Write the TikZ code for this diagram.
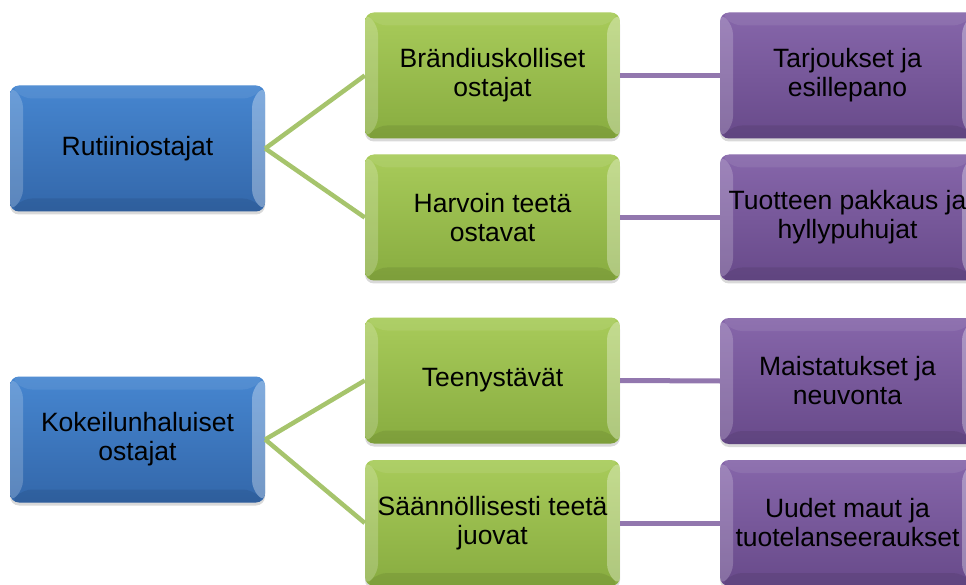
\documentclass[tikz,border=0pt]{standalone}
\usepackage{fontspec}
\setmainfont{Liberation Sans}
\usetikzlibrary{shadows}
\definecolor{bluetop}{HTML}{4686D0}
\definecolor{bluebot}{HTML}{3367AA}
\definecolor{greentop}{HTML}{A8CB5A}
\definecolor{greenbot}{HTML}{88AC40}
\definecolor{purptop}{HTML}{8666AA}
\definecolor{purpbot}{HTML}{684A8A}
\definecolor{greenline}{HTML}{A6C46C}
\definecolor{purpline}{HTML}{9277AE}
\tikzset{
  bev/.style={path picture={
    \path (path picture bounding box.south west) coordinate (bsw)
          (path picture bounding box.north east) coordinate (bne)
          (path picture bounding box.north west) coordinate (bnw)
          (path picture bounding box.south east) coordinate (bse);
    \fill[white,opacity=0.20] (bsw) -- (bnw) -- ([shift={(13pt,-13pt)}]bnw) -- ([shift={(13pt,13pt)}]bsw) -- cycle;
    \fill[white,opacity=0.08] (bnw) -- (bne) -- ([shift={(-13pt,-13pt)}]bne) -- ([shift={(13pt,-13pt)}]bnw) -- cycle;
    \fill[white,opacity=0.32] (bne) -- (bse) -- ([shift={(-13pt,13pt)}]bse) -- ([shift={(-13pt,-13pt)}]bne) -- cycle;
    \fill[black,opacity=0.08] (bse) -- (bsw) -- ([shift={(13pt,13pt)}]bsw) -- ([shift={(-13pt,13pt)}]bse) -- cycle;
  }},
  boxbase/.style={rounded corners=9pt, minimum width=255pt, minimum height=126pt,
    inner sep=0pt, align=center, text=black,
    font=\fontsize{26.5}{29}\selectfont,
    drop shadow={opacity=0.3, shadow xshift=0pt, shadow yshift=-3pt}, bev},
  bluebox/.style={boxbase, top color=bluetop, bottom color=bluebot},
  greenbox/.style={boxbase, top color=greentop, bottom color=greenbot},
  purplebox/.style={boxbase, top color=purptop, bottom color=purpbot},
  gline/.style={draw=greenline, line width=4.5pt},
  pline/.style={draw=purpline, line width=5pt},
}
\begin{document}
\begin{tikzpicture}[x=1pt,y=-1pt]
\useasboundingbox (0,0) rectangle (966,585);
\node[bluebox] (b1) at (137.5,148.5) {Rutiiniostajat};
\node[bluebox] (b2) at (137.5,439.5) {Kokeilunhaluiset\\ostajat};
\node[greenbox] (g1) at (492.5,75.5) {Brändiuskolliset\\ostajat};
\node[greenbox] (g2) at (492.5,217.5) {Harvoin teetä\\ostavat};
\node[greenbox] (g3) at (492.5,380.5) {Teenystävät};
\node[greenbox] (g4) at (492.5,523) {Säännöllisesti teetä\\juovat};
\node[purplebox] (p1) at (847.5,75.5) {Tarjoukset ja\\esillepano};
\node[purplebox] (p2) at (847.5,217.5) {Tuotteen pakkaus ja\\hyllypuhujat};
\node[purplebox] (p3) at (847.5,381) {Maistatukset ja\\neuvonta};
\node[purplebox] (p4) at (847.5,523) {Uudet maut ja\\tuotelanseeraukset};
\draw[gline] (b1.east) -- (g1.west);
\draw[gline] (b1.east) -- (g2.west);
\draw[gline] (b2.east) -- (g3.west);
\draw[gline] (b2.east) -- (g4.west);
\draw[pline] (g1.east) -- (p1.west);
\draw[pline] (g2.east) -- (p2.west);
\draw[pline] (g3.east) -- (p3.west);
\draw[pline] (g4.east) -- (p4.west);
\end{tikzpicture}
\end{document}
